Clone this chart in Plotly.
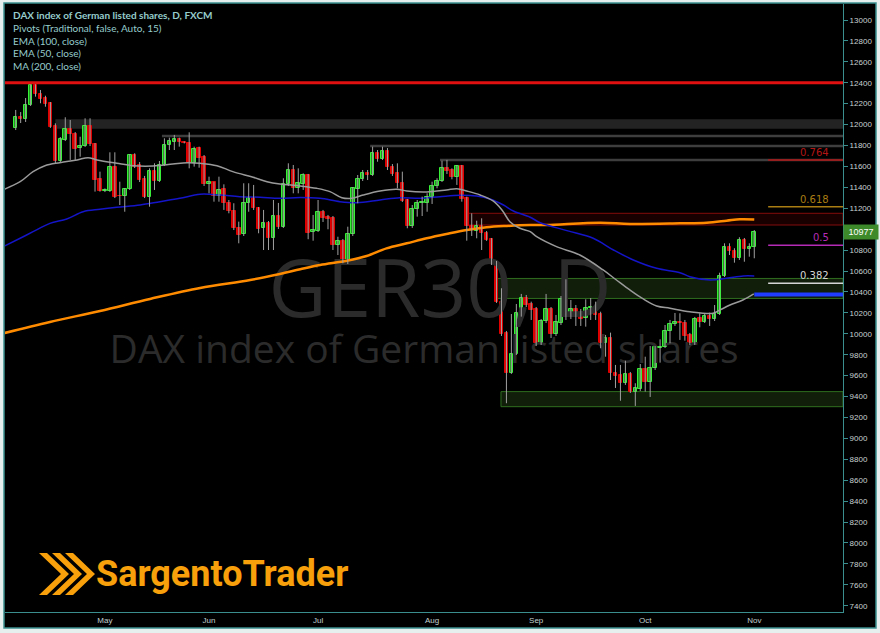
import pandas as pd
import plotly.graph_objects as go

# ---------------- data ----------------
dates = pd.bdate_range("2015-04-07", "2015-11-02")  # 150 daily bars (GER30, FXCM)

opens = [11964, 12068, 12051, 12187, 12383, 12290, 12251, 12204, 11987, 11652,
         11853, 11958, 11910, 11773, 11798, 11987, 11812, 11477, 11368, 11368,
         11592, 11320, 11320, 11382, 11709, 11614, 11477, 11311, 11556, 11461,
         11614, 11805, 11837, 11862, 11831, 11827, 11630, 11773, 11687, 11429,
         11448, 11320, 11384, 11248, 11174, 11014, 10951, 11248, 11301, 11200,
         11009, 11056, 10913, 11126, 11024, 11429, 11566, 11397, 11429, 11518,
         10970, 10986, 11162, 11114, 11104, 10849, 10890, 10689, 10951, 11382,
         11477, 11534, 11518, 11726, 11671, 11751, 11598, 11534, 11439, 11279,
         11031, 11190, 11248, 11253, 11305, 11413, 11464, 11582, 11566, 11502,
         11604, 11295, 11034, 10986, 11031, 10967, 10904, 10684, 10304, 10005,
         9628, 9807, 10196, 10339, 10285, 10237, 9909, 10119, 10234, 9998,
         10100, 10330, 10158, 10234, 10180, 10148, 10244, 10253, 10187, 9915,
         9957, 9622, 9606, 9527, 9616, 9447, 9472, 9661, 9542, 9670,
         9867, 9877, 10030, 10094, 10110, 10106, 9989, 9909, 10148, 10116,
         10170, 10139, 10189, 10553, 10833, 10795, 10722, 10897, 10808, 10827]
highs = [12140, 12120, 12254, 12388, 12392, 12331, 12276, 12216, 12012, 11881,
         12070, 12044, 11929, 11884, 12060, 12060, 11824, 11550, 11390, 11735,
         11735, 11454, 11394, 11719, 11726, 11642, 11509, 11582, 11630, 11652,
         11869, 11875, 11901, 11875, 11840, 11926, 11789, 11789, 11709, 11502,
         11454, 11502, 11429, 11279, 11248, 11072, 11439, 11439, 11423, 11212,
         11184, 11078, 11279, 11251, 11487, 11630, 11614, 11582, 11534, 11528,
         11136, 11279, 11184, 11136, 11126, 10928, 10906, 11024, 11403, 11518,
         11566, 11566, 11789, 11757, 11789, 11776, 11623, 11630, 11550, 11289,
         11231, 11279, 11311, 11343, 11454, 11487, 11655, 11662, 11582, 11614,
         11614, 11311, 11152, 11081, 11104, 10983, 10916, 10696, 10435, 10027,
         10189, 10285, 10381, 10371, 10307, 10256, 10141, 10381, 10256, 10180,
         10361, 10521, 10323, 10275, 10237, 10330, 10342, 10307, 10211, 9989,
         10011, 9702, 9702, 9743, 9635, 9527, 9711, 9781, 9883, 9883,
         9947, 10084, 10132, 10199, 10196, 10132, 10008, 10161, 10196, 10196,
         10202, 10275, 10584, 10865, 10865, 10818, 10923, 10916, 10865, 10992]
lows = [11948, 12015, 12025, 12178, 12267, 12204, 12171, 11968, 11630, 11642,
        11843, 11662, 11662, 11693, 11786, 11795, 11359, 11359, 11355, 11356,
        11298, 11231, 11167, 11375, 11585, 11451, 11298, 11215, 11375, 11451,
        11604, 11757, 11757, 11789, 11820, 11582, 11598, 11588, 11413, 11343,
        11263, 11263, 11184, 11152, 10992, 10865, 10935, 11167, 11184, 10961,
        10801, 10801, 10801, 11002, 11012, 11413, 11343, 11343, 11375, 10904,
        10890, 10973, 11069, 10999, 10801, 10753, 10674, 10667, 10935, 11248,
        11461, 11470, 11509, 11645, 11662, 11566, 11509, 11391, 11260, 11009,
        11012, 11120, 11126, 11167, 11241, 11391, 11451, 11528, 11477, 11423,
        11263, 10890, 10935, 10913, 10801, 10888, 10658, 10295, 9979, 9336,
        9616, 9797, 10164, 10256, 10132, 9883, 9893, 10103, 9960, 9979,
        10084, 10132, 10141, 10075, 10075, 10068, 10132, 10132, 9862, 9781,
        9558, 9482, 9360, 9511, 9434, 9310, 9453, 9447, 9396, 9654,
        9724, 9864, 9909, 10075, 9941, 9934, 9893, 9893, 10062, 10103,
        10075, 10122, 10180, 10543, 10753, 10680, 10706, 10689, 10737, 10722]
closes = [12070, 12054, 12187, 12379, 12290, 12245, 12200, 11974, 11652, 11862,
          11958, 11907, 11767, 11798, 11987, 11812, 11470, 11368, 11375, 11592,
          11311, 11316, 11382, 11709, 11598, 11470, 11311, 11556, 11461, 11614,
          11805, 11843, 11862, 11831, 11828, 11630, 11767, 11678, 11429, 11448,
          11320, 11375, 11248, 11174, 11014, 10945, 11253, 11301, 11200, 11002,
          11056, 10913, 11126, 11024, 11429, 11566, 11391, 11439, 11518, 10967,
          10992, 11162, 11104, 11098, 10849, 10890, 10699, 10952, 11391, 11477,
          11534, 11518, 11726, 11671, 11751, 11592, 11525, 11439, 11273, 11031,
          11193, 11253, 11263, 11305, 11413, 11464, 11582, 11559, 11502, 11604,
          11286, 11034, 10992, 11031, 10967, 10897, 10674, 10301, 9995, 9628,
          9807, 10196, 10339, 10275, 10228, 9909, 10122, 10234, 9998, 10110,
          10330, 10158, 10234, 10180, 10139, 10250, 10259, 10180, 9909, 9957,
          9622, 9599, 9527, 9616, 9447, 9479, 9661, 9542, 9670, 9877,
          9877, 10030, 10094, 10116, 10103, 9982, 9909, 10139, 10116, 10170,
          10139, 10189, 10553, 10833, 10792, 10722, 10897, 10808, 10827, 10977]

# indicator lines (bar position, value)
ema50_x = [-2.2, 0.9, 3.5, 5.9, 8.9, 12.4, 14.6, 16.4, 20.4, 23.7, 27.7, 31.7, 34.6, 37.2,
           40.6, 43.8, 47.9, 50.7, 53.3, 57.4, 60.7, 63.4, 65.8, 67.8, 70.1, 73.5, 76.9,
           78.9, 82.9, 86.9, 89.0, 91.0, 93.7, 96.3, 98.1, 99.7, 101.7, 103.8, 105.1,
           109.1, 113.8, 118.5, 121.2, 123.9, 126.6, 129.3, 132.0, 136.0, 140.7, 142.1,
           144.1, 146.7, 148.9]
ema50_y = [11384, 11454, 11550, 11607, 11636, 11662, 11684, 11662, 11630, 11607, 11604,
           11623, 11636, 11630, 11607, 11550, 11496, 11454, 11432, 11413, 11391, 11359,
           11301, 11295, 11327, 11365, 11382, 11365, 11356, 11375, 11387, 11365, 11327,
           11270, 11184, 11072, 11009, 10976, 10928, 10833, 10753, 10610, 10514, 10419,
           10333, 10266, 10244, 10211, 10196, 10228, 10275, 10323, 10381]
ema100_x = [-2.2, 0.9, 3.5, 6.9, 10.3, 13.6, 17.0, 20.4, 25.1, 29.1, 33.1, 37.2, 41.2,
            45.2, 49.3, 53.3, 57.4, 61.4, 65.4, 68.8, 73.5, 77.5, 81.6, 85.6, 89.6, 93.0,
            95.7, 98.4, 100.4, 103.8, 105.8, 111.2, 116.5, 120.6, 124.6, 129.3, 134.0,
            136.0, 140.1, 143.4, 146.8, 149.0]
ema100_y = [10840, 10913, 10976, 11056, 11098, 11167, 11190, 11209, 11231, 11263, 11295,
            11334, 11327, 11311, 11305, 11295, 11303, 11295, 11263, 11253, 11279, 11301,
            11295, 11311, 11324, 11317, 11289, 11231, 11174, 11114, 11062, 10986, 10913,
            10801, 10706, 10626, 10584, 10546, 10514, 10531, 10553, 10553]
ma200_x = [-2.2, 6.9, 17.0, 27.1, 37.2, 47.3, 53.3, 57.4, 61.4, 66.8, 70.8, 74.8, 78.9,
           82.9, 86.9, 91.0, 95.0, 99.1, 103.8, 107.1, 117.9, 123.9, 134.0, 139.4, 143.4,
           146.1, 149.0]
ma200_y = [10008, 10113, 10218, 10333, 10438, 10514, 10572, 10617, 10658, 10699, 10744,
           10817, 10865, 10913, 10954, 10992, 11018, 11031, 11040, 11040, 11062, 11050,
           11056, 11062, 11081, 11095, 11093]

# pivot / support-resistance levels: (value, starting bar)
red_line = 12400
gray_band = (11960, 12050, 8)
gray_lines = [(11890, 29.5), (11795, 71.5), (11662, 85.6)]
red_zone = (11040, 11152, 91.2)
green_zones = [(10338, 10529, 96.9), (9303, 9447, 97.9)]
blue_level = (10376, 149)
fib_start = 151.8
fib_labels = ["0.764", "0.618", "0.5", "0.382"]
fib_values = [11662, 11215, 10846, 10483]
fib_colors = ["#b31515", "#a97d12", "#b52bb5", "#d5d5d5"]
last_price = 10977

y_ticks = list(range(7400, 13001, 200))

# ---------------- figure ----------------
W, H = 880, 633
ML, MR, MT, MB = 5, 37, 4, 21
PW, PH = W - ML - MR, H - MT - MB
X_RANGE = [-2.16, 166.9]
Y_RANGE = [7340, 13153]


def px_x(p):
    return (p - ML) / PW


def px_y(p):
    return (H - MB - p) / PH


n = len(closes)
xs = list(range(n))
month_idx, month_txt = [], []
for i, d in enumerate(dates):
    if i > 0 and d.month != dates[i - 1].month:
        month_idx.append(i)
        month_txt.append(d.strftime("%b"))

fig = go.Figure()

# watermarks (behind everything)
fig.add_trace(go.Scatter(x=[85.6], y=[10355], mode="text", text=["GER30, D"],
                         textfont=dict(family="Open Sans", size=80, color="#2b2b2b"),
                         hoverinfo="skip", showlegend=False))
fig.add_trace(go.Scatter(x=[82.4], y=[9810], mode="text",
                         text=["DAX index of German listed shares"],
                         textfont=dict(family="Open Sans", size=39, color="#2b2b2b"),
                         hoverinfo="skip", showlegend=False))

# moving averages
fig.add_trace(go.Scatter(x=ma200_x, y=ma200_y, mode="lines", line=dict(color="#ff8c00", width=2.5, shape="spline"),
                         hoverinfo="skip", showlegend=False))
fig.add_trace(go.Scatter(x=ema100_x, y=ema100_y, mode="lines", line=dict(color="#1414c8", width=1.5, shape="spline"),
                         hoverinfo="skip", showlegend=False))
fig.add_trace(go.Scatter(x=ema50_x, y=ema50_y, mode="lines", line=dict(color="#9a9a9a", width=1.5, shape="spline"),
                         hoverinfo="skip", showlegend=False))

# wicks
wx, wy = [], []
for i in xs:
    wx += [i, i, None]
    wy += [lows[i], highs[i], None]
fig.add_trace(go.Scatter(x=wx, y=wy, mode="lines", line=dict(color="#a0a0a0", width=1),
                         hoverinfo="skip", showlegend=False))

# bodies
base = [min(o, c) for o, c in zip(opens, closes)]
size = [max(abs(c - o), 6) for o, c in zip(opens, closes)]
up = [c >= o for o, c in zip(opens, closes)]
fig.add_trace(go.Bar(x=xs, y=size, base=base, width=0.72,
                     marker=dict(color=["#1c9a1c" if u else "#d80000" for u in up],
                                 line=dict(color=["#38f038" if u else "#e00000" for u in up], width=1)),
                     hoverinfo="skip", showlegend=False))

shapes = []
# outer frame
shapes.append(dict(type="rect", xref="paper", yref="paper", x0=px_x(4), x1=px_x(876),
                   y0=px_y(628), y1=px_y(3), fillcolor="#000000",
                   line=dict(color="#3b8e8e", width=1.5), layer="below"))
# gray band and lines
shapes.append(dict(type="rect", xref="x", yref="y", x0=gray_band[2], x1=X_RANGE[1],
                   y0=gray_band[0], y1=gray_band[1], fillcolor="rgba(70,70,70,0.5)",
                   line=dict(width=0), layer="below"))
for v, s in gray_lines:
    shapes.append(dict(type="line", xref="x", yref="y", x0=s, x1=X_RANGE[1], y0=v, y1=v,
                       line=dict(color="#3e3e3e", width=2.5), layer="below"))
# red zone
shapes.append(dict(type="rect", xref="x", yref="y", x0=red_zone[2], x1=X_RANGE[1],
                   y0=red_zone[0], y1=red_zone[1], fillcolor="rgba(80,0,0,0.3)",
                   line=dict(color="#850c0c", width=1), layer="below"))
# green zones
for lo, hi, s in green_zones:
    shapes.append(dict(type="rect", xref="x", yref="y", x0=s, x1=X_RANGE[1], y0=lo, y1=hi,
                       fillcolor="rgba(45,85,30,0.35)", line=dict(color="#2f6e1f", width=1),
                       layer="below"))
# red resistance line
shapes.append(dict(type="line", xref="x", yref="y", x0=X_RANGE[0], x1=X_RANGE[1],
                   y0=red_line, y1=red_line, line=dict(color="#e01010", width=3)))
# blue level
shapes.append(dict(type="line", xref="x", yref="y", x0=blue_level[1], x1=X_RANGE[1],
                   y0=blue_level[0], y1=blue_level[0], line=dict(color="#1f3cff", width=4)))
# fib lines
for v, c in zip(fib_values, fib_colors):
    shapes.append(dict(type="line", xref="x", yref="y", x0=fib_start, x1=X_RANGE[1],
                       y0=v, y1=v, line=dict(color=c, width=1.5)))

# logo chevrons
for k in range(3):
    x0 = 39 + 13 * k
    pts = [(x0, 553), (x0 + 8, 553), (x0 + 30, 574), (x0 + 8, 595), (x0, 595), (x0 + 22, 574)]
    path = "M " + " L ".join(f"{px_x(a):.5f},{px_y(b):.5f}" for a, b in pts) + " Z"
    shapes.append(dict(type="path", xref="paper", yref="paper", path=path,
                       fillcolor="#f7a00c", line=dict(width=0)))

annotations = []
legend_lines = ["<b>DAX index of German listed shares, D, FXCM</b>",
                "Pivots (Traditional, false, Auto, 15)",
                "EMA (100, close)", "EMA (50, close)", "MA (200, close)"]
for k, t in enumerate(legend_lines):
    annotations.append(dict(xref="paper", yref="paper", x=px_x(11), y=px_y(15.5 + 12.6 * k),
                            xanchor="left", yanchor="middle", text=t, showarrow=False,
                            font=dict(family="Lato", size=10, color="#96cccc")))
for t, v, c in zip(fib_labels, fib_values, fib_colors):
    annotations.append(dict(xref="x", yref="y", x=164.5, y=v, xanchor="right", yanchor="bottom",
                            yshift=0, text=t, showarrow=False,
                            font=dict(family="DejaVu Sans", size=10, color=c)))
annotations.append(dict(xref="paper", yref="y", x=1, y=last_price, xanchor="left",
                        yanchor="middle", xshift=0, text=f"{last_price}", showarrow=False,
                        bgcolor="#3c8a2a", borderpad=2, width=30,
                        font=dict(family="Liberation Sans", size=9, color="#ffffff")))
annotations.append(dict(xref="paper", yref="paper", x=px_x(94), y=px_y(574), xanchor="left",
                        yanchor="middle", text="<b>SargentoTrader</b>", showarrow=False,
                        font=dict(family="Roboto", size=36, color="#f7a00c")))

fig.update_layout(
    width=W, height=H,
    margin=dict(l=ML, r=MR, t=MT, b=MB, autoexpand=False),
    paper_bgcolor="#e6eeee", plot_bgcolor="#000000",
    shapes=shapes, annotations=annotations, showlegend=False, bargap=0,
    xaxis=dict(range=X_RANGE, tickvals=month_idx, ticktext=month_txt, showgrid=False,
               zeroline=False, showline=True, linecolor="#3b8e8e", linewidth=1,
               automargin=False, ticks="",
               tickfont=dict(family="Liberation Sans", size=8, color="#c0d0d0")),
    yaxis=dict(range=Y_RANGE, side="right", tickvals=y_ticks, tickformat="d", showgrid=False,
               zeroline=False, showline=True, linecolor="#3b8e8e", linewidth=1,
               automargin=False, ticks="outside", ticklen=4, tickcolor="#3b8e8e",
               tickfont=dict(family="Liberation Sans", size=8, color="#c8d2d2")),
)

fig.write_html("out.html", config={"displayModeBar": False},
               post_script="document.body.style.margin='0';document.body.style.overflow='hidden';")
